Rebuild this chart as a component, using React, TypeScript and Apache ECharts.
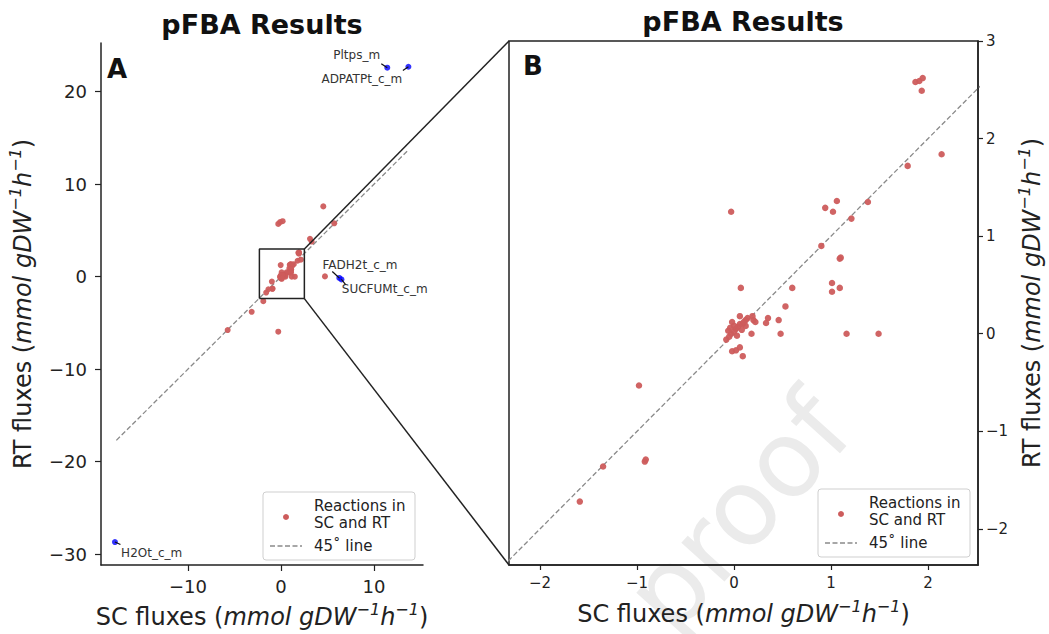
import React, { useEffect, useRef } from "react";
import * as echarts from "echarts";

// ---------- data ----------
// red points: reactions present in both SC and RT
const scFlux = [
  1.87, 1.91, 1.945, 1.935, 2.14, 1.79, 1.38, 1.06, 0.94, 1.02, 1.21, 0.9, 1.09, 1.1,
  -0.03, 0.07, 0.6, 1.01, 1.09, 1.01, 0.53, 0.35, 0.33, 0.46, 0.48, 0.18, 1.16, 1.49,
  0.2, 0.22, 0.19, 0.12, 0.06, -0.02,
  -0.08, -0.05, -0.03, 0.0, 0.02, 0.04, 0.06, 0.09, 0.12, 0.0, -0.04, 0.03, 0.08, 0.1, -0.06, 0.14,
  -0.02, 0.02, 0.06, 0.09, -0.98, -0.92, -0.91, -1.35, -1.59,
  4.55, -0.29, -0.1, 0.18, 5.73, 3.12, 3.3, 4.73, -3.15, -5.73, -0.29, -1.9,
];
const rtFlux = [
  2.58, 2.59, 2.62, 2.49, 1.84, 1.72, 1.35, 1.36, 1.29, 1.25, 1.18, 0.9, 0.77, 0.78,
  1.25, 0.47, 0.47, 0.52, 0.47, 0.43, 0.28, 0.16, 0.11, 0.14, 0.0, 0.0, 0.0, 0.0,
  0.14, 0.12, 0.18, 0.14, 0.18, 0.12,
  -0.06, -0.03, 0.0, 0.02, 0.05, 0.07, 0.1, 0.1, 0.08, 0.08, 0.06, -0.02, 0.04, 0.12, 0.03, 0.16,
  -0.18, -0.17, -0.14, -0.23, -0.53, -1.31, -1.29, -1.36, -1.72,
  7.6, 5.7, 5.9, 6.0, 5.77, 4.09, 3.8, 0.03, -3.8, -5.77, -5.95, -2.65,
];

// blue labelled outliers
const labeledNames = ["Pltps_m", "ADPATPt_c_m", "FADH2t_c_m", "SUCFUMt_c_m", "H2Ot_c_m"];
const labeledSC = [11.43, 13.7, 6.27, 6.5, -17.85];
const labeledRT = [22.6, 22.7, -0.14, -0.3, -28.7];

// 45 degree reference line ends
const diagEnds = [-17.7, 13.7];

// zoom window (panel B limits)
const zoomX = [-2.32, 2.515];
const zoomY = [-2.37, 3.0];
// panel A limits
const fullX = [-19.35, 15.27];
const fullY = [-31.18, 25.27];

const ticksAx = [-10, 0, 10];
const ticksAy = [-30, -20, -10, 0, 10, 20];
const ticksBx = [-2, -1, 0, 1, 2];
const ticksBy = [-2, -1, 0, 1, 2, 3];

// ---------- styling ----------
const FONT = "DejaVu Sans";
const RED = "#cd5c5c";
const BLUE = "#0000ff";
const INK = "#222";
const DASH = "#8a8a8a";

// label placement (pixel offsets from the point) and leader start offsets
const labelDx = [-30.6, -46.6, 20.7, 43.3, 36.7];
const labelDy = [-12.7, 12.6, -12.6, 9.7, 10.7];
const leadDx = [-6, -5.5, -7, 4, 5.5];
const leadDy = [-4, 3.8, -6.5, 5, 2.5];

const fmt = (v: number) => String(v).replace("-", "\u2212");

const nameRich = {
  r: { fontSize: 24, fontFamily: FONT, color: INK, lineHeight: 32 },
  i: { fontSize: 24, fontFamily: FONT, fontStyle: "italic", color: INK, lineHeight: 32 },
  s: { fontSize: 16, fontFamily: FONT, fontStyle: "italic", color: INK, verticalAlign: "top", lineHeight: 18 },
};
const unitRich = "{i|mmol gDW}{s|\u22121}{i|h}{s|\u22121}{r|)}";
const xName = "{r|SC fluxes (}" + unitRich;
const yName = "{r|RT fluxes (}" + unitRich;

function legendGroup(x0: number, y0: number) {
  return [
    {
      type: "rect",
      shape: { x: x0, y: y0, width: 152, height: 68, r: 3 },
      style: { fill: "rgba(255,255,255,0.85)", stroke: "#cfcfcf", lineWidth: 1 },
      z: 50,
    },
    { type: "circle", shape: { cx: x0 + 23, cy: y0 + 25, r: 3 }, style: { fill: RED }, z: 51 },
    {
      type: "text",
      x: x0 + 51,
      y: y0 + 14,
      style: { text: "Reactions in", fontSize: 15, fontFamily: FONT, fill: INK, verticalAlign: "middle" },
      z: 51,
    },
    {
      type: "text",
      x: x0 + 51,
      y: y0 + 31,
      style: { text: "SC and RT", fontSize: 15, fontFamily: FONT, fill: INK, verticalAlign: "middle" },
      z: 51,
    },
    {
      type: "line",
      shape: { x1: x0 + 7, y1: y0 + 54, x2: x0 + 39, y2: y0 + 54 },
      style: { stroke: DASH, lineWidth: 1.5, lineDash: [5, 2.5] },
      z: 51,
    },
    {
      type: "text",
      x: x0 + 51,
      y: y0 + 54,
      style: { text: "45\u02DA line", fontSize: 15, fontFamily: FONT, fill: INK, verticalAlign: "middle" },
      z: 51,
    },
  ];
}

export default function App() {
  const ref = useRef<HTMLDivElement>(null);

  useEffect(() => {
    if (!ref.current) return;
    const chart = echarts.init(ref.current, null, { renderer: "svg" });

    const redData = scFlux.map((x, i) => [x, rtFlux[i]]);
    const blueData = labeledSC.map((x, i) => [x, labeledRT[i]]);
    const diagData = diagEnds.map((v) => [v, v]);
    const boxData = [
      [zoomX[0], zoomY[0]],
      [zoomX[1], zoomY[0]],
      [zoomX[1], zoomY[1]],
      [zoomX[0], zoomY[1]],
      [zoomX[0], zoomY[0]],
    ];

    const axisCommon = {
      type: "value",
      splitLine: { show: false },
      axisLine: { show: true, onZero: false, lineStyle: { color: INK, width: 1.5 } },
    };

    chart.setOption({
      animation: false,
      backgroundColor: "#fff",
      grid: [
        { left: 101, top: 43, width: 322, height: 525 },
        { left: 509, top: 41, width: 469, height: 524, show: true, borderColor: INK, borderWidth: 1.5 },
      ],
      xAxis: [
        {
          ...axisCommon,
          gridIndex: 0,
          min: fullX[0],
          max: fullX[1],
          axisTick: { show: true, length: 6, customValues: ticksAx, lineStyle: { color: INK, width: 1.2 } },
          axisLabel: { customValues: ticksAx, formatter: fmt, fontSize: 18, fontFamily: FONT, color: INK, margin: 12 },
          name: xName,
          nameLocation: "middle",
          nameGap: 36,
          nameTextStyle: { rich: nameRich },
        },
        {
          ...axisCommon,
          gridIndex: 1,
          min: zoomX[0],
          max: zoomX[1],
          axisTick: { show: true, length: 5, customValues: ticksBx, lineStyle: { color: INK, width: 1.2 } },
          axisLabel: { customValues: ticksBx, formatter: fmt, fontSize: 15, fontFamily: FONT, color: INK, margin: 10 },
          name: xName,
          nameLocation: "middle",
          nameGap: 33,
          nameTextStyle: { rich: nameRich },
        },
      ],
      yAxis: [
        {
          ...axisCommon,
          gridIndex: 0,
          min: fullY[0],
          max: fullY[1],
          axisTick: { show: true, length: 6, customValues: ticksAy, lineStyle: { color: INK, width: 1.2 } },
          axisLabel: { customValues: ticksAy, formatter: fmt, fontSize: 18, fontFamily: FONT, color: INK, margin: 14 },
          name: yName,
          nameLocation: "middle",
          nameGap: 62,
          nameRotate: 90,
          nameTextStyle: { rich: nameRich },
        },
        {
          ...axisCommon,
          gridIndex: 1,
          position: "right",
          min: zoomY[0],
          max: zoomY[1],
          axisTick: { show: true, length: 5, customValues: ticksBy, lineStyle: { color: INK, width: 1.2 } },
          axisLabel: { customValues: ticksBy, formatter: fmt, fontSize: 15, fontFamily: FONT, color: INK, margin: 8 },
          name: yName,
          nameLocation: "middle",
          nameGap: 38,
          nameRotate: 90,
          nameTextStyle: { rich: nameRich },
        },
      ],
      series: [
        {
          type: "line",
          xAxisIndex: 0,
          yAxisIndex: 0,
          data: diagData,
          showSymbol: false,
          lineStyle: { color: DASH, width: 1.3, type: [5, 2.5] },
          z: 1,
        },
        {
          type: "scatter",
          xAxisIndex: 0,
          yAxisIndex: 0,
          data: redData,
          symbolSize: 6,
          itemStyle: { color: RED, opacity: 0.95 },
          z: 3,
        },
        {
          type: "scatter",
          xAxisIndex: 0,
          yAxisIndex: 0,
          data: blueData,
          symbolSize: 6,
          itemStyle: { color: BLUE },
          z: 4,
        },
        {
          type: "line",
          xAxisIndex: 0,
          yAxisIndex: 0,
          data: boxData,
          showSymbol: false,
          lineStyle: { color: INK, width: 1.5 },
          z: 5,
        },
        {
          type: "line",
          xAxisIndex: 1,
          yAxisIndex: 1,
          data: diagData,
          showSymbol: false,
          clip: true,
          lineStyle: { color: DASH, width: 1.3, type: [5, 2.5] },
          z: 1,
        },
        {
          type: "scatter",
          xAxisIndex: 1,
          yAxisIndex: 1,
          data: redData,
          symbolSize: 6.5,
          clip: true,
          itemStyle: { color: RED, opacity: 0.95 },
          z: 3,
        },
      ],
    });

    // annotations computed from the axes
    const aTR = chart.convertToPixel({ gridIndex: 0 }, [zoomX[1], zoomY[1]]) as number[];
    const aBR = chart.convertToPixel({ gridIndex: 0 }, [zoomX[1], zoomY[0]]) as number[];
    const bTL = chart.convertToPixel({ gridIndex: 1 }, [zoomX[0], zoomY[1]]) as number[];
    const bBL = chart.convertToPixel({ gridIndex: 1 }, [zoomX[0], zoomY[0]]) as number[];

    const labelEls: any[] = [];
    labeledNames.forEach((name, i) => {
      const p = chart.convertToPixel({ gridIndex: 0 }, [labeledSC[i], labeledRT[i]]) as number[];
      labelEls.push({
        type: "text",
        x: p[0] + labelDx[i],
        y: p[1] + labelDy[i],
        style: { text: name, fontSize: 12, fontFamily: FONT, fill: "#333", align: "center", verticalAlign: "middle" },
        z: 20,
      });
      labelEls.push({
        type: "line",
        shape: { x1: p[0] + leadDx[i], y1: p[1] + leadDy[i], x2: p[0], y2: p[1] },
        style: { stroke: "#111", lineWidth: 1.2 },
        z: 20,
      });
    });

    chart.setOption({
      graphic: [
        {
          type: "text",
          x: 738,
          y: 512,
          rotation: (48 * Math.PI) / 180,
          style: {
            text: "proof",
            fontSize: 106,
            fontFamily: FONT,
            fill: "#ebebeb",
            align: "center",
            verticalAlign: "middle",
          },
          z: -1,
        },
        {
          type: "text",
          x: 262,
          y: 24,
          style: { text: "pFBA Results", fontSize: 27, fontWeight: "bold", fontFamily: FONT, fill: "#111", align: "center", verticalAlign: "middle" },
        },
        {
          type: "text",
          x: 743,
          y: 21,
          style: { text: "pFBA Results", fontSize: 27, fontWeight: "bold", fontFamily: FONT, fill: "#111", align: "center", verticalAlign: "middle" },
        },
        {
          type: "text",
          x: 107,
          y: 69,
          style: { text: "A", fontSize: 26, fontWeight: "bold", fontFamily: FONT, fill: "#111", verticalAlign: "middle" },
        },
        {
          type: "text",
          x: 523,
          y: 66,
          style: { text: "B", fontSize: 26, fontWeight: "bold", fontFamily: FONT, fill: "#111", verticalAlign: "middle" },
        },
        {
          type: "line",
          shape: { x1: aTR[0], y1: aTR[1], x2: bTL[0], y2: bTL[1] },
          style: { stroke: INK, lineWidth: 1.5 },
          z: 10,
        },
        {
          type: "line",
          shape: { x1: aBR[0], y1: aBR[1], x2: bBL[0], y2: bBL[1] },
          style: { stroke: INK, lineWidth: 1.5 },
          z: 10,
        },
        ...labelEls,
        ...legendGroup(263, 492),
        ...legendGroup(818, 489),
      ],
    });

    return () => chart.dispose();
  }, []);

  return (
    <div
      ref={ref}
      style={{ position: "fixed", left: 0, top: 0, width: 1049, height: 634, background: "#fff" }}
    />
  );
}
